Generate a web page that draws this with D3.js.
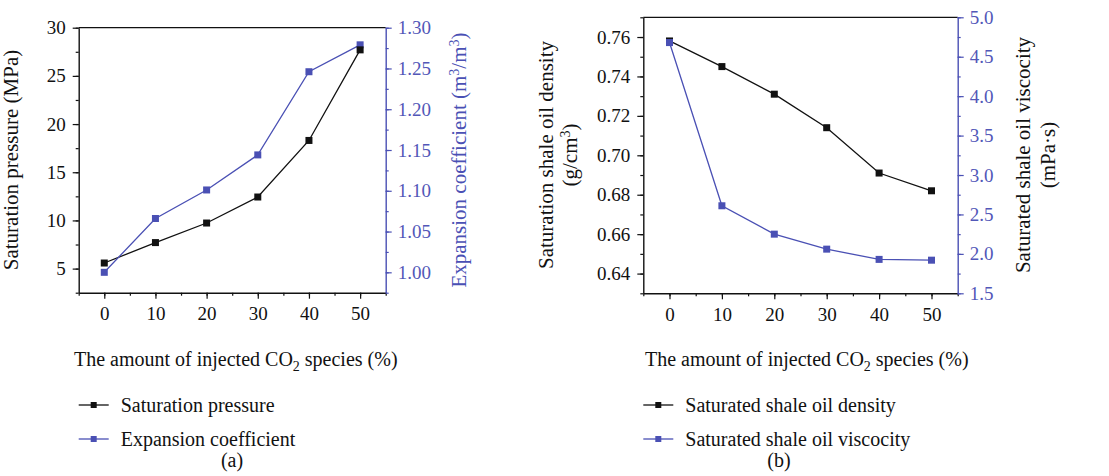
<!DOCTYPE html>
<html><head><meta charset="utf-8">
<script src="https://cdn.jsdelivr.net/npm/d3@7/dist/d3.min.js"></script>
<style>body{margin:0;background:#fff}svg{display:block}svg text{font-family:"Liberation Serif","DejaVu Serif",serif !important;}</style>
</head><body><svg id="c" width="1109" height="476" font-family="Liberation Serif, serif"></svg>
<script>
const categories = [0, 10, 20, 30, 40, 50];
const satPressure = [5.58, 7.7, 9.73, 12.43, 18.3, 27.7];
const expCoef = [1.000, 1.066, 1.101, 1.144, 1.246, 1.279];
const density = [0.758, 0.745, 0.731, 0.714, 0.691, 0.682];
const viscosity = [4.68, 2.61, 2.25, 2.06, 1.93, 1.92];
const xTicks = [0, 10, 20, 30, 40, 50];
const pTicks = [5, 10, 15, 20, 25, 30];
const eTicks = [1.00, 1.05, 1.10, 1.15, 1.20, 1.25, 1.30];
const dTicks = [0.64, 0.66, 0.68, 0.70, 0.72, 0.74, 0.76];
const vTicks = [1.5, 2.0, 2.5, 3.0, 3.5, 4.0, 4.5, 5.0];

const FONT = "Liberation Serif, DejaVu Serif, serif";
const BLACK = "#111", BLUE = "#4a50b4";
const svg = d3.select("#c");

function panel(o) {
  const g = svg.append("g");
  const x = d3.scaleLinear().domain([-5, 55]).range([o.x0, o.x1]);
  const yL = d3.scaleLinear().domain(o.yLdom).range([o.y1, o.y0]);
  const yR = d3.scaleLinear().domain(o.yRdom).range([o.y1, o.y0]);
  g.append("line").attr("x1", o.x0).attr("x2", o.x1).attr("y1", o.y0).attr("y2", o.y0)
    .attr("stroke", BLACK).attr("stroke-width", 1.2);
  function styleAxis(sel, col) {
    sel.attr("font-family", FONT).attr("font-size", 19);
    sel.select(".domain").attr("stroke", col).attr("stroke-width", 1.4);
    sel.selectAll(".tick line").attr("stroke", col).attr("stroke-width", 1.2);
    sel.selectAll("text").attr("fill", col).attr("font-family", FONT).attr("font-size", 19);
  }
  const minorStyle = (s, col) => { s.select(".domain").remove(); s.selectAll(".tick line").attr("stroke", col).attr("stroke-width", 1.2); };
  // x axis
  g.append("g").attr("transform", `translate(0,${o.y1})`)
    .call(d3.axisBottom(x).tickValues(d3.range(-5, 56, 5)).tickSize(3).tickFormat("")).call(s => minorStyle(s, BLACK));
  const xa = g.append("g").attr("transform", `translate(0,${o.y1})`)
    .call(d3.axisBottom(x).tickValues(xTicks).tickSize(6).tickSizeOuter(0).tickPadding(8));
  styleAxis(xa, BLACK);
  // left axis
  g.append("g").attr("transform", `translate(${o.x0},0)`)
    .call(d3.axisLeft(yL).tickValues(o.yLminor).tickSize(3).tickFormat("")).call(s => minorStyle(s, BLACK));
  const la = g.append("g").attr("transform", `translate(${o.x0},0)`)
    .call(d3.axisLeft(yL).tickValues(o.yLticks).tickSize(6).tickSizeOuter(0).tickPadding(7).tickFormat(o.yLfmt));
  styleAxis(la, BLACK);
  // right axis
  g.append("g").attr("transform", `translate(${o.x1},0)`)
    .call(d3.axisRight(yR).tickValues(o.yRminor).tickSize(3).tickFormat("")).call(s => minorStyle(s, BLUE));
  const ra = g.append("g").attr("transform", `translate(${o.x1},0)`)
    .call(d3.axisRight(yR).tickValues(o.yRticks).tickSize(6).tickSizeOuter(0).tickPadding(6).tickFormat(o.yRfmt));
  styleAxis(ra, BLUE);
  ra.selectAll("text").attr("fill", "#5257b8");

  // series
  const line = (ys, sc) => d3.line().x((d, i) => x(categories[i])).y(d => sc(d))(ys);
  g.append("path").attr("d", line(o.sL, yL)).attr("fill", "none").attr("stroke", BLACK).attr("stroke-width", 1.3);
  g.append("path").attr("d", line(o.sR, yR)).attr("fill", "none").attr("stroke", BLUE).attr("stroke-width", 1.3);
  const ms = 7;
  g.selectAll(null).data(o.sR).enter().append("rect")
    .attr("x", (d, i) => x(categories[i]) - ms / 2).attr("y", d => yR(d) - ms / 2)
    .attr("width", ms).attr("height", ms).attr("fill", BLUE);
  g.selectAll(null).data(o.sL).enter().append("rect")
    .attr("x", (d, i) => x(categories[i]) - ms / 2).attr("y", d => yL(d) - ms / 2)
    .attr("width", ms).attr("height", ms).attr("fill", BLACK);
  if (o.rOnTop) {
    g.selectAll(null).data([o.sR[0]]).enter().append("rect")
      .attr("x", x(categories[0]) - ms / 2).attr("y", d => yR(d) - ms / 2)
      .attr("width", ms).attr("height", ms).attr("fill", BLUE);
  }
  // x title
  const xt = g.append("text").attr("x", o.xtX).attr("y", 366).attr("fill", BLACK)
    .attr("font-family", FONT).attr("font-size", 20);
  xt.append("tspan").text("The amount of injected CO");
  xt.append("tspan").attr("dy", 5).attr("font-size", 14).text("2");
  xt.append("tspan").attr("dy", -5).text(" species (%)");
  // legend
  o.legend.forEach((lab, i) => {
    const ly = 405 + i * 34, col = i === 0 ? BLACK : BLUE;
    g.append("line").attr("x1", o.x0).attr("x2", o.x0 + 30).attr("y1", ly).attr("y2", ly)
      .attr("stroke", col).attr("stroke-width", 1.3);
    g.append("rect").attr("x", o.x0 + 15 - 3).attr("y", ly - 3).attr("width", 6).attr("height", 6).attr("fill", col);
    g.append("text").attr("x", o.x0 + 42).attr("y", ly + 6.5).attr("fill", BLACK)
      .attr("font-family", FONT).attr("font-size", 20).text(lab);
  });
  g.append("text").attr("x", o.capX).attr("y", 467).attr("text-anchor", "middle")
    .attr("fill", BLACK).attr("font-family", FONT).attr("font-size", 20).text(o.cap);
  return g;
}

panel({
  x0: 78.7, x1: 385.7, y0: 27.7, y1: 292.7,
  yLdom: [2.5, 30], yRdom: [0.975, 1.30],
  yLticks: pTicks, yLminor: d3.range(2.5, 30.01, 2.5), yLfmt: d3.format("d"),
  yRticks: eTicks, yRminor: d3.range(0.975, 1.301, 0.025), yRfmt: d3.format(".2f"),
  sL: satPressure, sR: expCoef, xtX: 74,
  legend: ["Saturation pressure", "Expansion coefficient"], cap: "(a)", capX: 232
});
panel({
  x0: 643.3, x1: 957.7, y0: 17.3, y1: 293.3,
  yLdom: [0.63, 0.77], yRdom: [1.5, 5.0],
  yLticks: dTicks, yLminor: d3.range(0.63, 0.771, 0.01), yLfmt: d3.format(".2f"),
  yRticks: vTicks, yRminor: d3.range(1.5, 5.01, 0.25), yRfmt: d3.format(".1f"),
  sL: density, sR: viscosity, xtX: 645, rOnTop: true,
  legend: ["Saturated shale oil density", "Saturated shale oil viscocity"], cap: "(b)", capX: 779
});

function vtitle(cx, cy, col, parts) {
  const t = svg.append("text").attr("transform", `translate(${cx},${cy}) rotate(-90)`)
    .attr("text-anchor", "middle").attr("dy", "0.35em").attr("fill", col)
    .attr("font-family", FONT).attr("font-size", 21);
  parts.forEach(p => {
    if (p.sup) t.append("tspan").attr("dy", -7).attr("font-size", 14).text(p.t);
    else t.append("tspan").attr("dy", p.after ? 7 : 0).text(p.t);
  });
}
vtitle(18, 160, BLACK, [{t: "Saturation pressure (MPa)"}]);
vtitle(466, 160, BLUE, [{t: "Expansion coefficient (m"}, {t: "3", sup: true}, {t: "/m", after: true}, {t: "3", sup: true}, {t: ")", after: true}]);
vtitle(553, 155, BLACK, [{t: "Saturation shale oil density"}]);
vtitle(577, 155, BLACK, [{t: "(g/cm"}, {t: "3", sup: true}, {t: ")", after: true}]);
vtitle(1030, 155, BLACK, [{t: "Saturated shale oil viscocity"}]);
vtitle(1055, 155, BLACK, [{t: "(mPa·s)"}]);
</script></body></html>
